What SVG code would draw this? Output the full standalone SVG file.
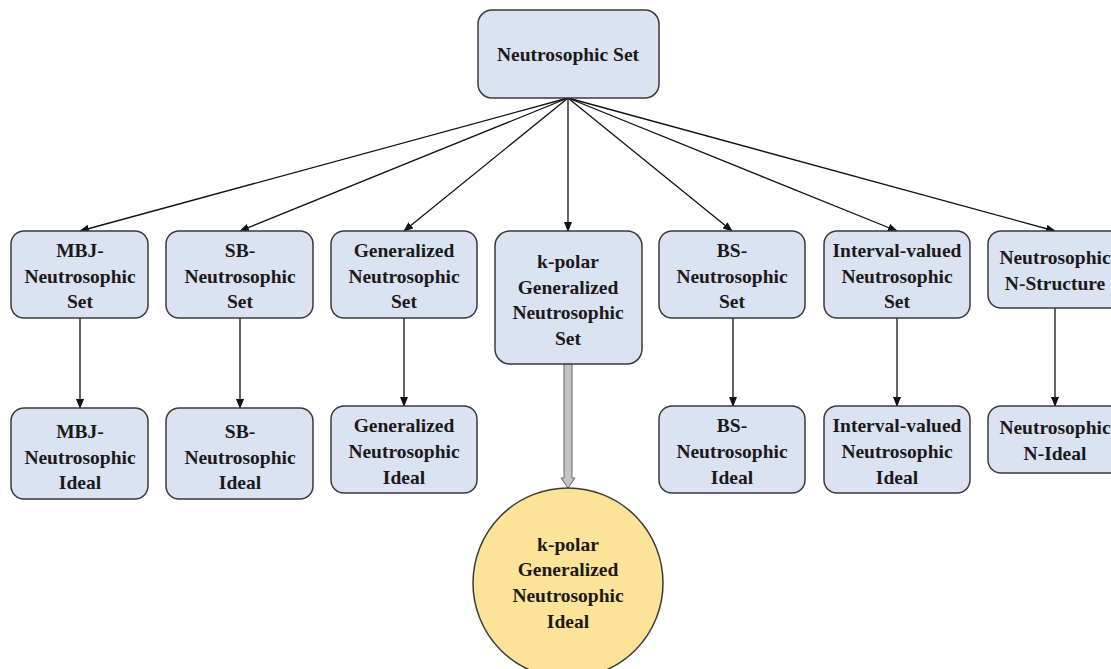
<svg xmlns="http://www.w3.org/2000/svg" width="1111" height="669" viewBox="0 0 1111 669">
<style>
.box{fill:#dbe2f2;stroke:#3a3a3a;stroke-width:1.5}
.circ{fill:#fde398;stroke:#3a3a3a;stroke-width:1.5}
text{font-family:"Liberation Serif",serif;font-size:19.5px;font-weight:bold;fill:#1a1a1a;text-anchor:middle}
.ln{stroke:#111;stroke-width:1.3;fill:none;marker-end:url(#ah)}
</style>
<defs>
<marker id="ah" markerWidth="10" markerHeight="8" refX="9" refY="4" orient="auto" markerUnits="userSpaceOnUse">
<path d="M0,0 L10,4 L0,8 Z" fill="#111"/>
</marker>
</defs>
<rect width="1111" height="669" fill="#fff"/>
<g id="connectors">
<path class="ln" d="M568,98 L80,231"/>
<path class="ln" d="M568,98 L240,231"/>
<path class="ln" d="M568,98 L404,231"/>
<path class="ln" d="M568,98 L568,231"/>
<path class="ln" d="M568,98 L732,231"/>
<path class="ln" d="M568,98 L897,231"/>
<path class="ln" d="M568,98 L1055,231"/>
<path class="ln" d="M80,318 L80,408"/>
<path class="ln" d="M240,318 L240,408"/>
<path class="ln" d="M404,318 L404,406"/>
<path class="ln" d="M733,318 L733,406"/>
<path class="ln" d="M897,318 L897,406"/>
<path class="ln" d="M1055,308 L1055,406"/>
<path d="M564,364 L572,364 L572,478 L575,478 L568,488 L561,478 L564,478 Z" fill="#c4c4c4" stroke="#666" stroke-width="1"/>
</g>
<g id="n-root"><rect class="box" x="478" y="10" width="181" height="88" rx="14"/><text x="568" y="61">Neutrosophic Set</text></g>
<g id="n-mbj-set"><rect class="box" x="11" y="231" width="137" height="87" rx="13"/><text x="80" y="257">MBJ-</text><text x="80" y="283">Neutrosophic</text><text x="80" y="308">Set</text></g>
<g id="n-sb-set"><rect class="box" x="166" y="231" width="147" height="87" rx="13"/><text x="240" y="257">SB-</text><text x="240" y="283">Neutrosophic</text><text x="240" y="308">Set</text></g>
<g id="n-gen-set"><rect class="box" x="331" y="231" width="146" height="87" rx="13"/><text x="404" y="257">Generalized</text><text x="404" y="283">Neutrosophic</text><text x="404" y="308">Set</text></g>
<g id="n-kpolar-set"><rect class="box" x="495" y="231" width="147" height="133" rx="15"/><text x="568" y="268">k-polar</text><text x="568" y="294">Generalized</text><text x="568" y="319">Neutrosophic</text><text x="568" y="345">Set</text></g>
<g id="n-bs-set"><rect class="box" x="659" y="231" width="146" height="87" rx="13"/><text x="732" y="257">BS-</text><text x="732" y="283">Neutrosophic</text><text x="732" y="308">Set</text></g>
<g id="n-iv-set"><rect class="box" x="824" y="231" width="146" height="87" rx="13"/><text x="897" y="257">Interval-valued</text><text x="897" y="283">Neutrosophic</text><text x="897" y="308">Set</text></g>
<g id="n-nstruct"><rect class="box" x="988" y="231" width="140" height="77" rx="13"/><text x="1055" y="264">Neutrosophic</text><text x="1055" y="290">N-Structure</text></g>
<g id="n-mbj-ideal"><rect class="box" x="11" y="408" width="137" height="91" rx="13"/><text x="80" y="438">MBJ-</text><text x="80" y="464">Neutrosophic</text><text x="80" y="489">Ideal</text></g>
<g id="n-sb-ideal"><rect class="box" x="166" y="408" width="147" height="91" rx="13"/><text x="240" y="438">SB-</text><text x="240" y="464">Neutrosophic</text><text x="240" y="489">Ideal</text></g>
<g id="n-gen-ideal"><rect class="box" x="331" y="406" width="146" height="87" rx="13"/><text x="404" y="432">Generalized</text><text x="404" y="458">Neutrosophic</text><text x="404" y="484">Ideal</text></g>
<g id="n-bs-ideal"><rect class="box" x="659" y="406" width="146" height="87" rx="13"/><text x="732" y="432">BS-</text><text x="732" y="458">Neutrosophic</text><text x="732" y="484">Ideal</text></g>
<g id="n-iv-ideal"><rect class="box" x="824" y="406" width="146" height="87" rx="13"/><text x="897" y="432">Interval-valued</text><text x="897" y="458">Neutrosophic</text><text x="897" y="484">Ideal</text></g>
<g id="n-nideal"><rect class="box" x="988" y="406" width="140" height="67" rx="13"/><text x="1055" y="434">Neutrosophic</text><text x="1055" y="460">N-Ideal</text></g>
<g id="n-kpolar-ideal"><circle class="circ" cx="568" cy="583" r="95"/><text x="568" y="551">k-polar</text><text x="568" y="576">Generalized</text><text x="568" y="602">Neutrosophic</text><text x="568" y="628">Ideal</text></g>
</svg>
